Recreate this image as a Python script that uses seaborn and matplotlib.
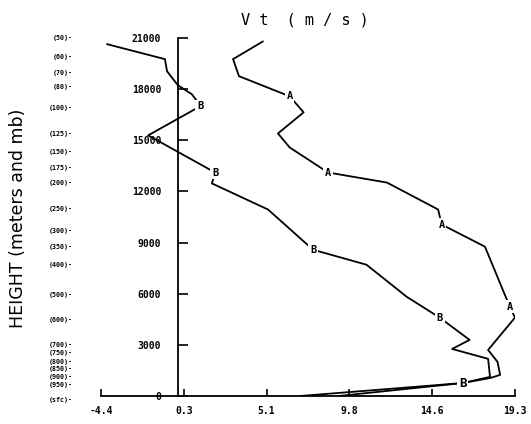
import matplotlib
matplotlib.use("Agg")
import matplotlib.pyplot as plt
import matplotlib.transforms as mtransforms
import numpy as np
import pandas as pd
import seaborn as sns

# ---- data ----
heights_A = [20800, 19760, 18760, 17580, 16640, 15400, 14580, 13110, 12520, 10940,
             10060, 8760, 5240, 4600, 2700, 2000, 1240, 1060, 760, 0]
vt_A = [4.87, 3.16, 3.5, 6.4, 7.2, 5.73, 6.4, 8.6, 11.97, 14.9,
        15.1, 17.58, 19.0, 19.3, 17.76, 18.3, 18.45, 17.9, 16.3, 9.2]
label_idx_A = [3, 7, 10, 12]

heights_B = [20640, 19760, 19050, 18230, 17700, 17230, 16990, 15290, 13110, 12470,
             10940, 8580, 7700, 5820, 4590, 3290, 2760, 2180, 1120, 760, 0]
vt_B = [-4.06, -0.74, -0.62, 0.0, 0.8, 1.15, 1.27, -1.7, 2.13, 1.95,
        5.16, 7.74, 10.8, 13.1, 15.0, 16.7, 15.7, 17.76, 17.87, 16.3, 7.0]
label_idx_B = [6, 8, 11, 14]

height_ticks = [0, 3000, 6000, 9000, 12000, 15000, 18000, 21000]
height_tick_labels = ["0", "3000", "6000", "9000", "12000", "15000", "18000", "21000"]
vt_tick_labels = ["-4.4", "0.3", "5.1", "9.8", "14.6", "19.3"]
vt_min, vt_max = -4.4, 19.3

pressure_labels = ["(50)", "(60)", "(70)", "(80)", "(100)", "(125)", "(150)", "(175)",
                   "(200)", "(250)", "(300)", "(350)", "(400)", "(500)", "(600)",
                   "(700)", "(750)", "(800)", "(850)", "(900)", "(950)", "(sfc)"]
pressure_heights = [21000, 19900, 18940, 18100, 16900, 15350, 14300, 13350,
                    12500, 10940, 9650, 8760, 7700, 5940, 4470,
                    3000, 2530, 2000, 1590, 1120, 650, -230]

# ---- plot ----
sns.set_theme(style="white")
plt.rcParams["font.family"] = ["DejaVu Sans"]

fig = plt.figure(figsize=(5.31, 4.24), dpi=100)
ax = fig.add_axes([101 / 531, 28 / 424, 414 / 531, 358 / 424])

dfA = pd.DataFrame({"vt": vt_A, "h": heights_A})
dfB = pd.DataFrame({"vt": vt_B, "h": heights_B})
sns.lineplot(data=dfA, x="vt", y="h", sort=False, estimator=None, color="black",
             lw=1.3, ax=ax)
sns.lineplot(data=dfB, x="vt", y="h", sort=False, estimator=None, color="black",
             lw=1.3, ax=ax)

lab_kw = dict(ha="center", va="center", fontsize=7.5, fontweight="bold",
              family="DejaVu Sans Mono", color="black",
              bbox=dict(boxstyle="square,pad=0.15", fc="white", ec="none"))
for i in label_idx_A:
    ax.text(vt_A[i], heights_A[i], "A", **lab_kw)
for i in label_idx_B:
    ax.text(vt_B[i], heights_B[i], "B", **lab_kw)
ax.text(vt_B[19], heights_B[19], "B", **{**lab_kw, "fontsize": 9})

ax.set_xlim(vt_min, vt_max)
ax.set_ylim(0, 21000)
ax.set_xticks(np.linspace(vt_min, vt_max, len(vt_tick_labels)))
ax.set_xticklabels(vt_tick_labels)
ax.set_yticks(height_ticks)
ax.set_yticklabels(height_tick_labels)
ax.set_xlabel("")
ax.set_ylabel("")

for s in ["top", "right"]:
    ax.spines[s].set_visible(False)
ax.spines["left"].set_position(("data", 0))
for s in ["left", "bottom"]:
    ax.spines[s].set_color("black")
    ax.spines[s].set_linewidth(1.3)

ax.tick_params(axis="y", direction="in", length=7, width=1.2, color="black",
               pad=12, left=True)
ax.tick_params(axis="x", direction="in", length=5, width=1.2, color="black",
               pad=7, bottom=True)
for t in ax.get_xticklabels() + ax.get_yticklabels():
    t.set_fontfamily("DejaVu Sans Mono")
    t.set_fontweight("bold")
    t.set_fontsize(7)
    t.set_color("black")

trans = mtransforms.blended_transform_factory(fig.transFigure, ax.transData)
for lab, h in zip(pressure_labels, pressure_heights):
    ax.text(73 / 531, h, lab + "-", transform=trans, ha="right", va="center",
            fontsize=4.8, fontweight="bold", family="DejaVu Sans Mono",
            color="black", clip_on=False)

fig.text(18 / 531, (424 - 218) / 424, "HEIGHT (meters and mb)", rotation=90,
         ha="center", va="center", fontsize=12.5, color="black")
fig.text(305 / 531, (424 - 20) / 424, "V t  ( m / s )", ha="center", va="center",
         fontsize=11, family="DejaVu Sans Mono", color="black")

fig.savefig("out.png", dpi=100, facecolor="white")
